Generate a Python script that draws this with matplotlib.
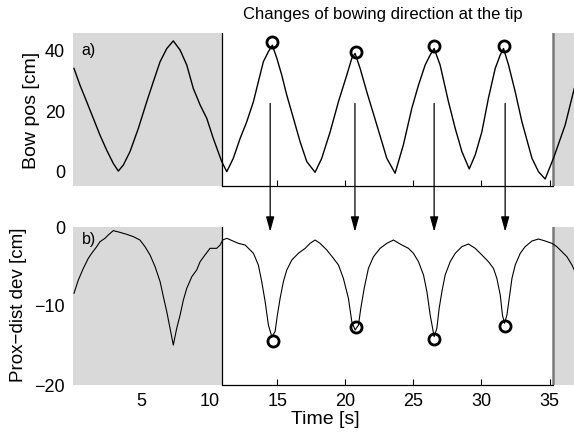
import matplotlib
matplotlib.use("Agg")
import matplotlib.pyplot as plt
from matplotlib.patches import ConnectionPatch

plt.rcParams['font.family'] = ['Liberation Sans', 'DejaVu Sans']

# ---- data ----
bow_t = [0.05, 0.49, 0.98, 1.47, 1.96, 2.45, 2.94, 3.31, 3.68, 4.17, 4.78, 5.40,
         5.88, 6.38, 6.87, 7.35, 7.85, 8.34, 8.82, 9.32, 9.81, 10.29, 10.91,
         11.28, 11.76, 12.26, 12.75, 13.24, 13.60, 13.97, 14.34, 14.63, 14.96,
         15.32, 15.69, 16.18, 16.67, 17.16, 17.77, 18.26, 18.88, 19.49, 20.10,
         20.47, 20.71, 21.08, 21.57, 22.31, 23.04, 23.65, 24.26, 24.88, 25.37,
         25.86, 26.23, 26.52, 26.96, 27.57, 28.07, 28.56, 29.10, 29.54, 30.03,
         30.51, 31.01, 31.38, 31.62, 31.99, 32.48, 32.97, 33.71, 34.19, 34.68,
         35.29, 36.15, 36.82]
bow_pos = [34.0, 28.5, 23.1, 17.6, 12.1, 7.2, 2.8, 0.3, 2.3, 6.7, 14.3, 23.1,
           29.6, 36.2, 40.5, 43.0, 40.0, 35.1, 27.4, 22.0, 17.6, 11.0, 3.4,
           0.1, 4.5, 11.0, 16.5, 23.1, 29.6, 36.2, 39.5, 41.6, 37.3,
           31.8, 25.2, 17.6, 9.9, 3.4, -0.1, 4.5, 13.2, 23.1, 31.8,
           37.3, 38.9, 34.0, 26.3, 15.4, 4.5, -0.4, 8.9, 20.9, 28.5,
           35.1, 38.4, 40.5, 35.1, 23.1, 14.3, 6.7, 1.0, 5.6, 13.2,
           24.2, 34.0, 38.4, 40.5, 35.1, 26.3, 16.5, 4.5, 0.1, -2.3,
           4.5, 15.4, 27.4]

dev_t = [0.05, 0.37, 0.74, 1.10, 1.35, 1.72, 1.96, 2.33, 2.57, 2.94, 3.43, 3.93,
         4.41, 4.90, 5.27, 5.64, 6.01, 6.38, 6.62, 6.87, 7.11, 7.35, 7.60, 7.85,
         8.09, 8.34, 8.71, 9.07, 9.32, 9.68, 10.05, 10.54, 10.79, 10.98,
         11.28, 12.13, 12.63, 13.24, 13.60, 13.85, 14.10, 14.34, 14.59, 14.83,
         15.00, 15.20, 15.44, 15.69, 16.06, 16.54, 17.04, 17.40, 17.77, 18.14,
         18.63, 19.12, 19.49, 19.85, 20.22, 20.47, 20.71, 20.96, 21.13, 21.38,
         21.69, 22.06, 22.55, 23.04, 23.53, 24.15, 24.63, 25.00, 25.37, 25.74,
         25.99, 26.23, 26.52, 26.72, 26.89, 27.09, 27.33, 27.70, 28.07, 28.56,
         29.04, 29.54, 30.03, 30.51, 30.88, 31.13, 31.38, 31.54, 31.69, 31.87,
         32.04, 32.24, 32.48, 32.85, 33.21, 33.71, 34.19, 34.68, 35.18, 35.54,
         35.91, 36.28, 36.65, 36.82]
dev = [-8.39, -6.71, -5.23, -3.97, -3.33, -2.49, -1.86, -1.43, -1.01, -0.46, -0.68, -0.93,
       -1.22, -1.65, -2.49, -3.54, -5.02, -6.92, -8.82, -10.72, -12.83, -14.94, -12.83, -11.14,
       -9.24, -7.76, -6.29, -5.44, -4.39, -3.54, -2.70, -2.70, -2.28, -1.65,
       -1.43, -2.07, -2.28, -3.33, -4.81, -6.92, -9.45, -12.41, -13.88, -13.25,
       -11.14, -9.03, -6.92, -5.44, -4.18, -3.33, -2.70, -2.07, -1.65, -2.07,
       -2.91, -3.97, -4.81, -6.50, -9.03, -11.98, -13.04, -12.41, -10.30, -7.76,
       -5.23, -3.76, -2.70, -2.07, -1.65, -2.28, -2.70, -3.33, -4.39, -6.08,
       -8.19, -11.14, -13.88, -12.83, -10.30, -8.19, -6.08, -4.39, -3.33, -2.49,
       -2.15, -2.70, -3.54, -4.39, -5.23, -6.50, -8.61, -11.14, -12.19, -11.14,
       -9.03, -6.50, -4.81, -3.33, -2.49, -1.77, -1.52, -1.77, -2.07, -2.49,
       -3.12, -3.76, -4.81, -5.44]

tip_t_top = [14.63, 20.76, 26.52, 31.62]
tip_pos = [42.5, 39.4, 41.3, 41.3]
tip_t_bot = [14.7, 20.79, 26.52, 31.7]
tip_dev = [-14.4, -12.7, -14.2, -12.5]
arrow_t = [14.47, 20.7, 26.52, 31.74]

shade_start = 10.93
shade_end = 35.27
xmax = 36.8

W, H = 574, 434
fig = plt.figure(figsize=(W / 100, H / 100), dpi=100)

def add_ax(top_px, bot_px):
    left = 73.3 / W
    return fig.add_axes([left, (H - bot_px) / H, 1 - left, (bot_px - top_px) / H])

ax1 = add_ax(33, 186)
ax2 = add_ax(227, 385)

gray = '#d9d9d9'
for ax, ylim, yt in [(ax1, (-4.6, 45.6), [0, 20, 40]),
                     (ax2, (-20, 0), [-20, -10, 0])]:
    ax.set_xlim(0, xmax)
    ax.set_ylim(*ylim)
    ax.axvspan(0, shade_start, color=gray, lw=0, zorder=1)
    ax.axvspan(shade_end, xmax + 1, color=gray, lw=0, zorder=1)
    ax.axvline(shade_start, color='black', lw=0.9, zorder=2)
    ax.axvline(shade_end, color='#7a7a7a', lw=1.8, zorder=2)
    for s in ['top', 'right', 'left']:
        ax.spines[s].set_visible(False)
    ax.spines['bottom'].set_bounds(shade_start, shade_end)
    ax.spines['bottom'].set_linewidth(0.9)
    ax.set_yticks(yt)
    ax.set_xticks([5, 10, 15, 20, 25, 30, 35])
    ax.tick_params(axis='x', direction='in', length=4, width=0.8, labelsize=13, pad=6)
    ax.tick_params(axis='y', length=0, labelsize=13, pad=6)
    for tk in ax.xaxis.get_major_ticks()[:2]:
        tk.tick1line.set_visible(False)

ax1.tick_params(axis='x', labelbottom=False)

ax1.plot(bow_t, bow_pos, color='black', lw=1.0, zorder=3)
ax1.plot(tip_t_top, tip_pos, 'o', mfc='none', mec='black', ms=8, mew=2, zorder=4)
ax2.plot(dev_t, dev, color='black', lw=0.8, zorder=3)
ax2.plot(tip_t_bot, tip_dev, 'o', mfc='none', mec='black', ms=8, mew=2, zorder=4)

for t in arrow_t:
    con = ConnectionPatch(xyA=(t, 22.5), coordsA=ax1.transData,
                          xyB=(t, -0.6), coordsB=ax2.transData,
                          arrowstyle='-|>,head_length=0.9,head_width=0.25',
                          color='black', lw=0.9, shrinkA=0, shrinkB=0, zorder=5)
    fig.add_artist(con)

ax1.text(0.6, 40, 'a)', fontsize=11.5, va='center', ha='left', zorder=5)
ax2.text(0.6, -1.6, 'b)', fontsize=11.5, va='center', ha='left', zorder=5)

fig.text(383 / W, 1 - 14 / H, 'Changes of bowing direction at the tip',
         fontsize=12, ha='center', va='center')
fig.text(31 / W, 1 - 110 / H, 'Bow pos [cm]', rotation=90, fontsize=14,
         ha='center', va='center')
fig.text(19 / W, 1 - 305 / H, 'Prox\u2212dist dev [cm]', rotation=90, fontsize=13.5,
         ha='center', va='center')
fig.text(325 / W, 1 - 420 / H, 'Time [s]', fontsize=14, ha='center', va='center')

fig.savefig('out.png', dpi=100)
